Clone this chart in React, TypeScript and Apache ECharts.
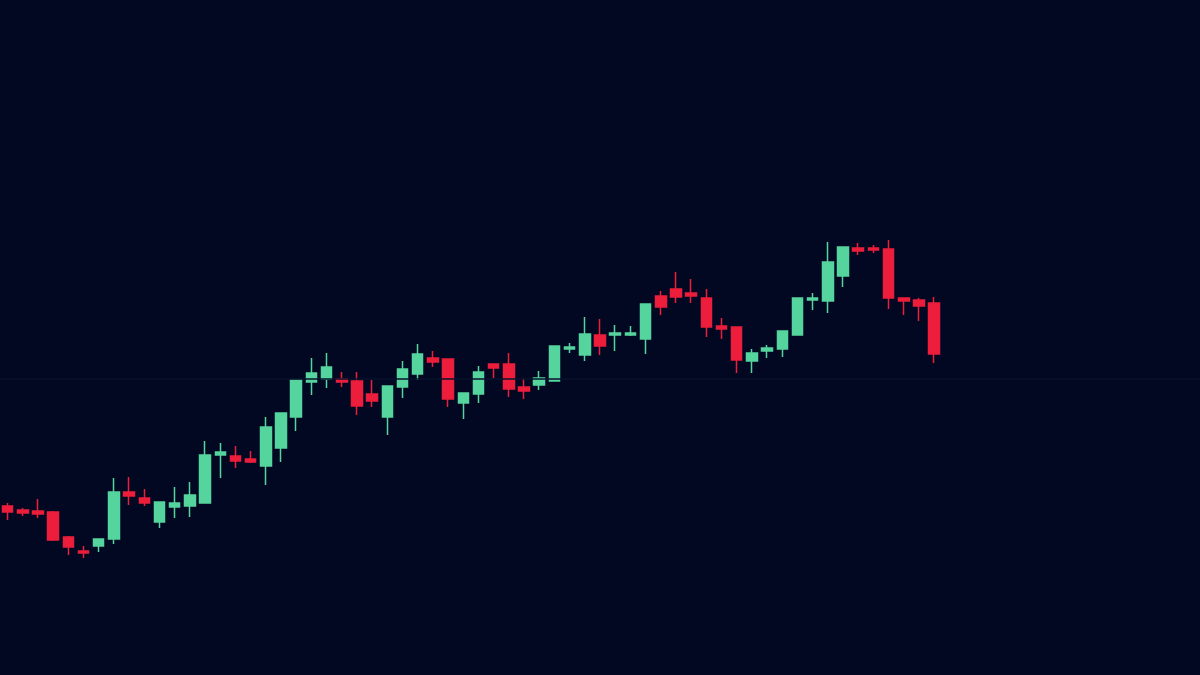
import React, { useEffect, useRef } from "react";
import * as echarts from "echarts";

// Each candle: [open, close, low, high]
const opens = [
  133.8, 133.0, 132.8, 132.6, 127.6, 124.8, 125.8, 127.2, 136.6, 135.4,
  130.6, 133.6, 133.8, 134.4, 144.0, 143.8, 143.2, 141.8, 145.4, 151.6,
  158.6, 159.2, 159.2, 158.8, 156.2, 151.6, 157.6, 160.2, 163.4, 163.2,
  154.4, 156.2, 162.2, 162.2, 157.6, 158.0, 158.8, 165.2, 164.0, 168.0,
  168.0, 168.0, 167.2, 175.8, 177.2, 176.4, 175.4, 169.8, 169.6, 162.8,
  164.8, 165.2, 168.0, 175.0, 174.8, 179.8, 185.4, 185.4, 185.2, 175.4,
  175.0, 174.4,
];
const closes = [
  132.6, 132.4, 132.2, 127.0, 125.6, 124.4, 127.2, 136.6, 135.8, 134.4,
  134.6, 134.4, 136.0, 144.0, 144.6, 142.8, 142.6, 149.6, 152.4, 159.0,
  160.4, 161.6, 158.6, 153.8, 154.8, 157.8, 161.2, 164.2, 162.6, 155.2,
  156.4, 160.6, 161.4, 157.2, 156.8, 159.4, 165.8, 165.6, 168.2, 165.8,
  168.4, 168.4, 174.2, 173.6, 175.6, 175.8, 169.6, 169.2, 163.0, 164.4,
  165.4, 168.8, 175.4, 175.4, 182.6, 185.6, 184.8, 185.0, 175.4, 174.8,
  173.8, 164.2,
];
const lows = [
  131.0, 131.8, 131.4, 126.8, 124.0, 123.4, 124.6, 126.2, 134.0, 133.8,
  129.4, 131.4, 131.6, 134.4, 139.4, 141.4, 142.4, 138.0, 142.6, 148.8,
  156.0, 157.4, 157.6, 152.0, 153.6, 148.0, 155.4, 159.0, 161.6, 153.6,
  151.2, 154.4, 159.4, 155.6, 155.2, 157.0, 158.8, 164.4, 162.8, 164.0,
  164.8, 167.8, 164.2, 172.0, 174.4, 174.4, 167.6, 167.2, 160.4, 160.4,
  163.4, 163.6, 168.0, 173.0, 172.4, 177.6, 184.0, 184.4, 173.2, 172.0,
  170.8, 162.4,
];
const highs = [
  134.4, 133.4, 135.2, 132.8, 127.8, 125.8, 127.2, 139.4, 139.6, 137.2,
  134.6, 137.6, 138.6, 146.8, 146.4, 145.8, 144.8, 151.6, 152.4, 159.0,
  163.4, 164.4, 160.6, 160.6, 159.0, 157.8, 162.8, 166.2, 164.8, 163.2,
  156.4, 161.8, 162.2, 164.4, 159.4, 160.8, 165.8, 166.4, 171.6, 171.2,
  170.0, 169.8, 174.2, 176.8, 180.6, 179.2, 177.2, 171.4, 169.6, 165.2,
  166.0, 168.8, 175.4, 176.4, 186.6, 185.6, 186.4, 186.0, 187.0, 175.4,
  175.4, 175.6,
];

// Reference level drawn as a faint horizontal line
const referenceLevel = 159.2;

// Total sessions on the axis (the rest of the axis is still empty)
const totalSessions = 79;

const UP = "#55d49e";
const DOWN = "#ec1e3b";
const BG = "#020822";

export default function App() {
  const ref = useRef<HTMLDivElement>(null);

  useEffect(() => {
    if (!ref.current) return;
    document.body.style.margin = "0";
    document.body.style.background = BG;
    const chart = echarts.init(ref.current, null, { renderer: "svg" });

    const categories: string[] = [];
    for (let i = 0; i < totalSessions; i++) categories.push(`S${i + 1}`);

    const data = opens.map((o, i) => [o, closes[i], lows[i], highs[i]]);

    chart.setOption({
      animation: false,
      backgroundColor: BG,
      grid: { left: -10, right: -5, top: 0, bottom: 0, containLabel: false },
      xAxis: {
        type: "category",
        data: categories,
        boundaryGap: true,
        axisLine: { show: false },
        axisTick: { show: false },
        axisLabel: { show: false },
        splitLine: { show: false },
      },
      yAxis: {
        type: "value",
        min: 100,
        max: 235,
        axisLine: { show: false },
        axisTick: { show: false },
        axisLabel: { show: false },
        splitLine: { show: false },
      },
      series: [
        {
          type: "candlestick",
          data,
          barWidth: 11,
          itemStyle: {
            color: UP,
            color0: DOWN,
            borderColor: UP,
            borderColor0: DOWN,
            borderWidth: 1.5,
          },
          markLine: {
            silent: true,
            symbol: "none",
            label: { show: false },
            lineStyle: { color: "#08122c", width: 1.5, type: "solid" },
            data: [{ yAxis: referenceLevel }],
          },
        },
      ],
    });

    return () => chart.dispose();
  }, []);

  return (
    <div
      ref={ref}
      style={{ position: "fixed", left: 0, top: 0, width: 1200, height: 675 }}
    />
  );
}
